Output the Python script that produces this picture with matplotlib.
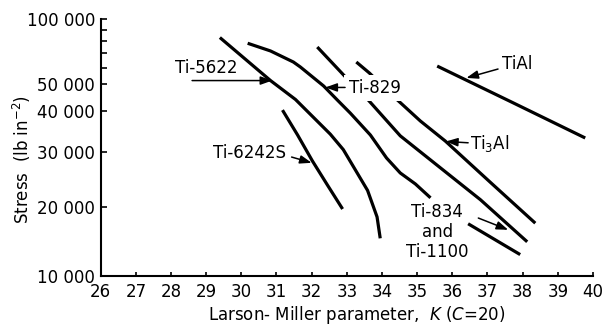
import numpy as np
import matplotlib
matplotlib.use("Agg")
import matplotlib.pyplot as plt
from matplotlib.ticker import FixedLocator, NullFormatter

# Larson-Miller parameter K (C = 20) against rupture stress (lb in^-2)
ti5622_k = [29.39, 30.83, 31.54, 32.53, 32.90, 33.59, 33.86, 33.95]
ti5622_s = [83000, 52000, 44000, 34000, 30500, 22600, 18100, 14600]

ti829_k = [30.18, 30.83, 31.48, 31.68, 32.34, 32.73, 33.10, 33.67, 34.13, 34.52, 34.95, 35.38]
ti829_s = [78000, 71600, 63800, 60600, 49200, 43800, 39400, 33800, 28700, 25700, 23700, 21400]

ti6242s_k = [31.17, 31.60, 32.02, 32.45, 32.88]
ti6242s_s = [40300, 33800, 28100, 23500, 19600]

ti834_k = [32.16, 32.96, 33.61, 34.52, 35.66, 36.80, 38.13]
ti834_s = [74800, 54200, 43800, 33600, 26700, 21100, 14100]

ti1100_k = [36.45, 37.93]
ti1100_s = [16900, 12400]

ti3al_k = [33.27, 33.64, 34.44, 35.09, 35.80, 37.08, 38.36]
ti3al_s = [63800, 56700, 43800, 37300, 32400, 24000, 17000]

tial_k = [35.57, 37.68, 39.78]
tial_s = [61200, 43100, 33100]

k_ticks = list(range(26, 41))
stress_major = [10000, 20000, 30000, 40000, 50000, 100000]
stress_major_labels = ["10 000", "20 000", "30 000", "40 000", "50 000", "100 000"]
stress_minor = [60000, 70000, 80000, 90000]

# The printed stress axis is a hand-ruled, slightly uneven log scale:
# map log10(stress) onto axis height piecewise through its graduations.
_log_knots = np.array([-10.0, 4.0, 4.30103, 4.47712, 4.60206, 4.69897,
                       4.77815, 4.84510, 4.90309, 4.95424, 5.0, 20.0])
_pos_knots = np.array([-12.49, 0.0, 0.2685, 0.4825, 0.642, 0.747,
                       0.8093, 0.8677, 0.9144, 0.9572, 1.0, 15.0])


def _fwd(v):
    v = np.clip(np.asarray(v, dtype=float), 1e-12, None)
    return np.interp(np.log10(v), _log_knots, _pos_knots)


def _inv(u):
    return 10.0 ** np.interp(np.asarray(u, dtype=float), _pos_knots, _log_knots)


plt.rcParams["font.family"] = ["DejaVu Sans"]
plt.rcParams["mathtext.fontset"] = "dejavusans"
plt.rcParams["mathtext.default"] = "regular"

fig = plt.figure(figsize=(6.05, 3.29), dpi=100)
ax = fig.add_axes([0.1664, 0.1611, 0.8137, 0.7812])

ax.set_yscale("function", functions=(_fwd, _inv))
ax.set_xlim(26, 40)
ax.set_ylim(10000, 100000)

curve_kw = dict(color="black", lw=2.3, solid_capstyle="butt",
                solid_joinstyle="round", zorder=2)
for k, s in [(ti5622_k, ti5622_s), (ti829_k, ti829_s), (ti6242s_k, ti6242s_s),
             (ti834_k, ti834_s), (ti1100_k, ti1100_s), (ti3al_k, ti3al_s),
             (tial_k, tial_s)]:
    ax.plot(k, s, **curve_kw)

# axes styling
for side in ("top", "right"):
    ax.spines[side].set_visible(False)
for side in ("left", "bottom"):
    ax.spines[side].set_linewidth(1.5)

ax.set_xticks(k_ticks)
ax.set_xticklabels([str(t) for t in k_ticks])
ax.yaxis.set_major_locator(FixedLocator(stress_major))
ax.yaxis.set_minor_locator(FixedLocator(stress_minor))
ax.set_yticklabels(stress_major_labels)
ax.yaxis.set_minor_formatter(NullFormatter())
ax.xaxis.set_minor_locator(FixedLocator([]))

ax.tick_params(axis="y", which="both", direction="in", length=4.5, width=1.2,
               pad=4, labelsize=12)
ax.tick_params(axis="x", which="both", direction="in", length=3.2, width=1.2,
               pad=5, labelsize=12)

ax.set_xlabel(r"Larson- Miller parameter,  $\mathit{K}$ ($\mathit{C}$=20)", fontsize=12)
ax.set_ylabel(r"Stress  (lb in$^{-2}$)", fontsize=12)
ax.xaxis.set_label_coords(0.521, -0.11)
ax.yaxis.set_label_coords(-0.138, 0.455)

arrow_kw = dict(arrowstyle="-|>,head_length=0.7,head_width=0.25", color="black",
                lw=1.1, shrinkA=0, shrinkB=0)

# Ti-5622
ax.text(29.01, 60000, "Ti-5622", fontsize=12, ha="center", va="center", zorder=3)
ax.annotate("", xy=(30.88, 52000), xytext=(28.6, 52000),
            arrowprops=arrow_kw, zorder=4)

# Ti-829 (label sits in a break of the two neighbouring curves)
ax.text(33.05, 48400, "Ti-829", fontsize=12, ha="left", va="center", zorder=3,
        bbox=dict(boxstyle="square,pad=0.25", fc="white", ec="none"))
ax.annotate("", xy=(32.39, 48600), xytext=(32.95, 48600),
            arrowprops=arrow_kw, zorder=4)

# Ti-6242S
ax.text(31.26, 29800, "Ti-6242S", fontsize=12, ha="right", va="center", zorder=3)
ax.annotate("", xy=(32.0, 27700), xytext=(31.43, 28900),
            arrowprops=arrow_kw, zorder=4)

# TiAl
ax.text(37.42, 62500, "TiAl", fontsize=12, ha="left", va="center", zorder=3)
ax.annotate("", xy=(36.40, 53600), xytext=(37.3, 59300),
            arrowprops=arrow_kw, zorder=4)

# Ti3Al
ax.text(36.51, 31950, r"Ti$_3$Al", fontsize=12, ha="left", va="center", zorder=3)
ax.annotate("", xy=(35.82, 32300), xytext=(36.45, 32000),
            arrowprops=arrow_kw, zorder=4)

# Ti-834 and Ti-1100
ax.text(35.57, 15560, "Ti-834\nand\nTi-1100", fontsize=12, ha="center",
        va="center", linespacing=1.15, zorder=3)
ax.annotate("", xy=(37.59, 15900), xytext=(36.74, 17900),
            arrowprops=arrow_kw, zorder=4)

fig.savefig("out.png", dpi=100)
